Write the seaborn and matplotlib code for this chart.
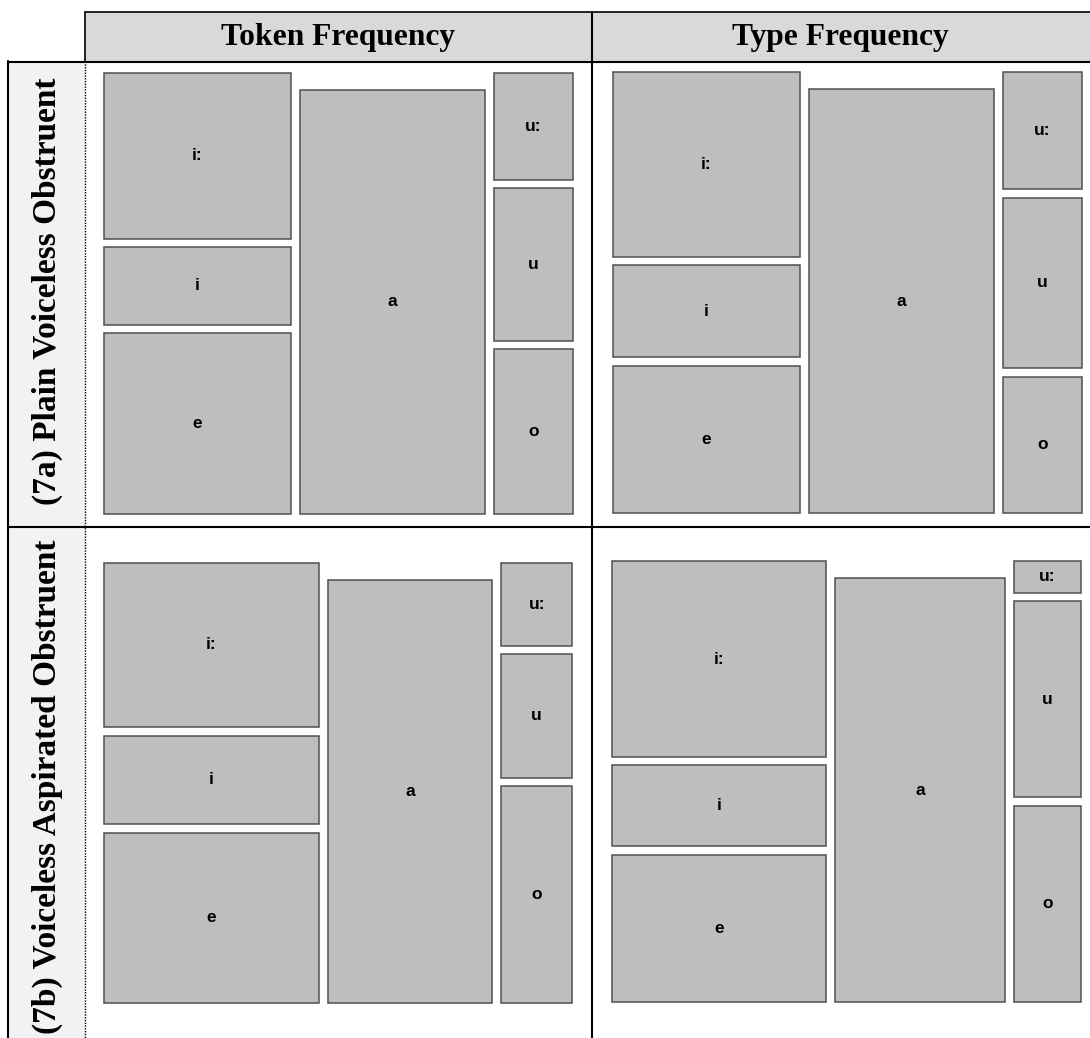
import matplotlib
matplotlib.use("Agg")
import matplotlib.pyplot as plt
from matplotlib.patches import Rectangle
import numpy as np
import pandas as pd
import seaborn as sns

"""
    Vowel mosaic plots: token vs type frequency
"""

vowels = ["i:", "i", "e", "a", "u:", "u", "o"]
vowel_group = ["front", "front", "front", "central", "back", "back", "back"]
group_order = ["front", "central", "back"]

# share of all tokens / types in %
plain_token = [16.2, 7.6, 17.7, 41.0, 4.4, 6.3, 6.8]
plain_type = [18.0, 9.0, 14.4, 41.1, 4.8, 7.0, 5.6]
aspirated_token = [18.6, 10.0, 19.3, 36.3, 3.1, 4.6, 8.1]
aspirated_type = [21.9, 9.1, 16.5, 37.5, 1.1, 6.9, 6.9]

col_titles = ["Token Frequency", "Type Frequency"]
row_titles = ["(7a) Plain Voiceless Obstruent", "(7b) Voiceless Aspirated Obstruent"]

BOX = "#bebebe"
EDGE = "#505050"
GAP = 0.02

sns.set_theme(style="white")
plt.rcParams["font.family"] = ["Liberation Sans", "DejaVu Sans"]
plt.rcParams["text.color"] = "black"


def draw_mosaic(ax, shares):
    df = pd.DataFrame({"vowel": vowels, "group": vowel_group, "share": shares})
    totals = df.groupby("group", sort=False)["share"].sum()
    x0 = 0.0
    for g in group_order:
        sub = df[df["group"] == g]
        w = totals[g] / totals.sum()
        y0 = 0.0
        # stack from the bottom up, so first vowel ends on top
        for _, row in sub.iloc[::-1].iterrows():
            h = row["share"] / totals[g]
            ax.bar(x0 + w / 2, h, width=w, bottom=y0, color=BOX,
                   edgecolor=EDGE, linewidth=1.1, clip_on=False)
            ax.text(x0 + w / 2, y0 + h / 2, row["vowel"], ha="center",
                    va="center", fontsize=12.5, fontweight="bold", color="black")
            y0 += h + GAP
        x0 += w + GAP
    ax.set_xlim(0, 1 + 2 * GAP)
    ax.set_ylim(0, 1 + 2 * GAP)
    ax.axis("off")


W, H = 1090, 1038
fig = plt.figure(figsize=(W / 100, H / 100), dpi=100)

# table frame drawn in pixel coordinates
frame = fig.add_axes([0, 0, 1, 1])
frame.set_xlim(0, W)
frame.set_ylim(H, 0)
frame.axis("off")

frame.add_patch(Rectangle((85, 12), W - 85, 49, facecolor="#d9d9d9", edgecolor="none"))
frame.add_patch(Rectangle((8, 61), 77, H - 61, facecolor="#f2f2f2", edgecolor="none"))
lw = 1.5
frame.plot([85, W], [12, 12], color="black", lw=1.2)
frame.plot([85, 85], [12, 61], color="black", lw=1.2)
frame.plot([8, W], [61.5, 61.5], color="black", lw=lw)
frame.plot([8, 8], [61, H], color="black", lw=lw)
frame.plot([85, 85], [61, H], color="black", lw=1.0, ls=(0, (1, 1)))
frame.plot([592, 592], [12, H], color="black", lw=lw)
frame.plot([8, W], [527, 527], color="black", lw=lw)

serif = ["Liberation Serif", "DejaVu Serif"]
for cx, title in zip([338, 840], col_titles):
    frame.text(cx, 38, title, ha="center", va="center", fontsize=22.7,
               fontweight="bold", family=serif, color="black")
for cy, title in zip([291, 787], row_titles):
    frame.text(47, cy, title, ha="center", va="center", rotation=90,
               fontsize=24, fontweight="bold", family=serif, color="black")

panels = [
    ([0.0954, 0.5050, 0.430, 0.4245], plain_token),
    ([0.5624, 0.5058, 0.430, 0.4245], plain_type),
    ([0.0950, 0.0334, 0.430, 0.4245], aspirated_token),
    ([0.5615, 0.0347, 0.430, 0.4245], aspirated_type),
]
for rect, shares in panels:
    ax = fig.add_axes(rect)
    draw_mosaic(ax, shares)

fig.savefig("out.png", dpi=100)
